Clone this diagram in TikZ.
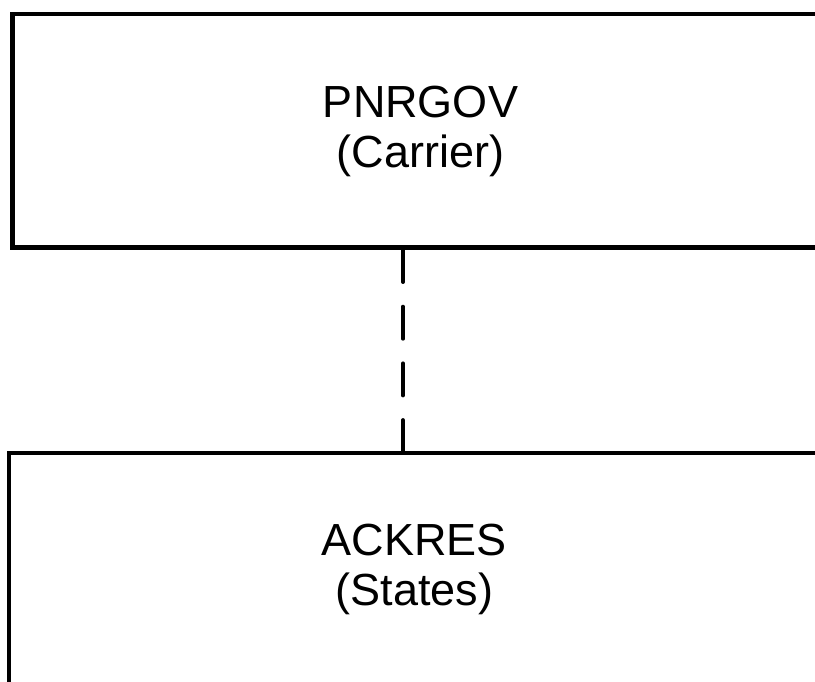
\documentclass[tikz,border=0pt]{standalone}
\usepackage{fontspec}
\setmainfont{Liberation Sans}
\begin{document}
\begin{tikzpicture}[x=1pt, y=-1pt,
    msgbox/.style={draw, line width=4.5pt, align=center, inner sep=0pt,
                   font=\fontsize{45}{50}\selectfont},
    link/.style={line width=4pt, line cap=round, dash pattern=on 32pt off 24.7pt}]
    \useasboundingbox (0, 0) rectangle (815, 682);
    \clip (0, 0) rectangle (815, 682);
    \node (pg) [msgbox, minimum width=816pt, minimum height=233.5pt] at (420.5, 131) {PNRGOV\\(Carrier)};
    \node (ack) [msgbox, minimum width=811pt, minimum height=232pt] at (414.5, 569) {ACKRES\\(States)};
    \coordinate (lk) at (403, 0);
    \draw[link] (pg.south -| lk) -- (ack.north -| lk);
  \end{tikzpicture}
\end{document}
